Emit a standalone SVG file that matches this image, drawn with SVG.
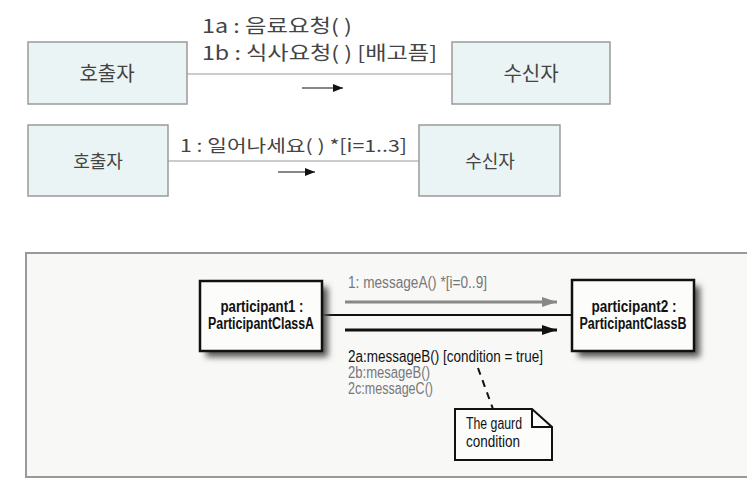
<svg xmlns="http://www.w3.org/2000/svg" width="747" height="485" viewBox="0 0 747 485">
<style>
.kbox{fill:#eaf4f4;stroke:#9a9a9a;stroke-width:1.5}
.kt{font-family:"Noto Sans CJK KR","Liberation Sans",sans-serif;fill:#444}
.kl{stroke:#999;stroke-width:1.2;fill:none}
.pbox{fill:#fcfcfa;stroke:#111;stroke-width:2.5}
.et{font-family:"Liberation Sans",Arial,sans-serif;font-size:16px}
.b{font-weight:bold;fill:#111;font-size:16px}
.g{fill:#777}
.k{fill:#111}
</style>
<defs>
<marker id="ah" markerWidth="10" markerHeight="8" refX="10" refY="4" orient="auto" markerUnits="userSpaceOnUse"><path d="M0,0 L10,4 L0,8 Z" fill="#111"/></marker>
<marker id="ahk" markerWidth="15" markerHeight="10" refX="15" refY="5" orient="auto" markerUnits="userSpaceOnUse"><path d="M0,0 L15,5 L0,10 Z" fill="#111"/></marker>
<marker id="ahg" markerWidth="15" markerHeight="10" refX="15" refY="5" orient="auto" markerUnits="userSpaceOnUse"><path d="M0,0 L15,5 L0,10 Z" fill="#888"/></marker>
<filter id="sh" x="-20%" y="-20%" width="150%" height="150%"><feGaussianBlur stdDeviation="3"/></filter>
</defs>
<rect width="747" height="485" fill="#fff"/>
<path d="M747,253 H26 V477 H747" fill="#f8f8f7" stroke="#999" stroke-width="2"/>
<g id="connectors">
<line class="kl" x1="187" y1="74" x2="452" y2="74"/>
<line x1="302" y1="88" x2="343" y2="88" stroke="#111" stroke-width="1.2" marker-end="url(#ah)"/>
<line class="kl" x1="168" y1="161" x2="419" y2="161"/>
<line x1="278" y1="172" x2="315" y2="172" stroke="#111" stroke-width="1.2" marker-end="url(#ah)"/>
<line x1="322" y1="315" x2="572" y2="315" stroke="#111" stroke-width="2"/>
<line x1="345" y1="302" x2="557" y2="302" stroke="#888" stroke-width="3" marker-end="url(#ahg)"/>
<line x1="345" y1="330" x2="557" y2="330" stroke="#111" stroke-width="3" marker-end="url(#ahk)"/>
<line x1="478" y1="368" x2="493" y2="409" stroke="#111" stroke-width="2" stroke-dasharray="7,6"/>
</g>
<g id="labels">
<text class="kt" x="202" y="33" font-size="19" textLength="150" lengthAdjust="spacingAndGlyphs">1a : 음료요청( )</text>
<text class="kt" x="202" y="60" font-size="19" textLength="235" lengthAdjust="spacingAndGlyphs">1b : 식사요청( ) [배고픔]</text>
<text class="kt" x="180" y="152" font-size="17" textLength="227" lengthAdjust="spacingAndGlyphs">1 : 일어나세요( ) *[i=1..3]</text>
<text class="et g" x="348" y="288" textLength="139" lengthAdjust="spacingAndGlyphs">1: messageA() *[i=0..9]</text>
<text class="et k" x="348" y="362" textLength="195" lengthAdjust="spacingAndGlyphs">2a:messageB() [condition = true]</text>
<text class="et g" x="348" y="378" textLength="82" lengthAdjust="spacingAndGlyphs">2b:mesageB()</text>
<text class="et g" x="348" y="394" textLength="85" lengthAdjust="spacingAndGlyphs">2c:messageC()</text>
</g>
<g id="caller1">
<rect class="kbox" x="28" y="42" width="159" height="62"/>
<text class="kt" x="107" y="81" font-size="20" text-anchor="middle">호출자</text>
</g>
<g id="receiver1">
<rect class="kbox" x="452" y="42" width="158" height="62"/>
<text class="kt" x="531" y="81" font-size="20" text-anchor="middle">수신자</text>
</g>
<g id="caller2">
<rect class="kbox" x="28" y="125" width="140" height="71"/>
<text class="kt" x="98" y="168" font-size="18" text-anchor="middle">호출자</text>
</g>
<g id="receiver2">
<rect class="kbox" x="419" y="125" width="141" height="71"/>
<text class="kt" x="490" y="168" font-size="18" text-anchor="middle">수신자</text>
</g>
<g id="participant1">
<rect x="206" y="287" width="122" height="70" fill="#555" filter="url(#sh)"/>
<rect class="pbox" x="200" y="281" width="122" height="70"/>
<text class="et b" x="262" y="312" text-anchor="middle" textLength="83" lengthAdjust="spacingAndGlyphs">participant1 :</text>
<text class="et b" x="261" y="329" text-anchor="middle" textLength="106" lengthAdjust="spacingAndGlyphs">ParticipantClassA</text>
</g>
<g id="participant2">
<rect x="578" y="286" width="122" height="71" fill="#555" filter="url(#sh)"/>
<rect class="pbox" x="572" y="280" width="122" height="71"/>
<text class="et b" x="634" y="312" text-anchor="middle" textLength="85" lengthAdjust="spacingAndGlyphs">participant2 :</text>
<text class="et b" x="633" y="329" text-anchor="middle" textLength="107" lengthAdjust="spacingAndGlyphs">ParticipantClassB</text>
</g>
<g id="note">
<path d="M455,409 H532 L552,427 V460 H455 Z" fill="#fcfcfa" stroke="#111" stroke-width="2"/>
<path d="M532,409 V427 H552" fill="none" stroke="#111" stroke-width="2"/>
<text class="et k" x="466" y="429" textLength="56" lengthAdjust="spacingAndGlyphs">The gaurd</text>
<text class="et k" x="466" y="447" textLength="54" lengthAdjust="spacingAndGlyphs">condition</text>
</g>
</svg>
